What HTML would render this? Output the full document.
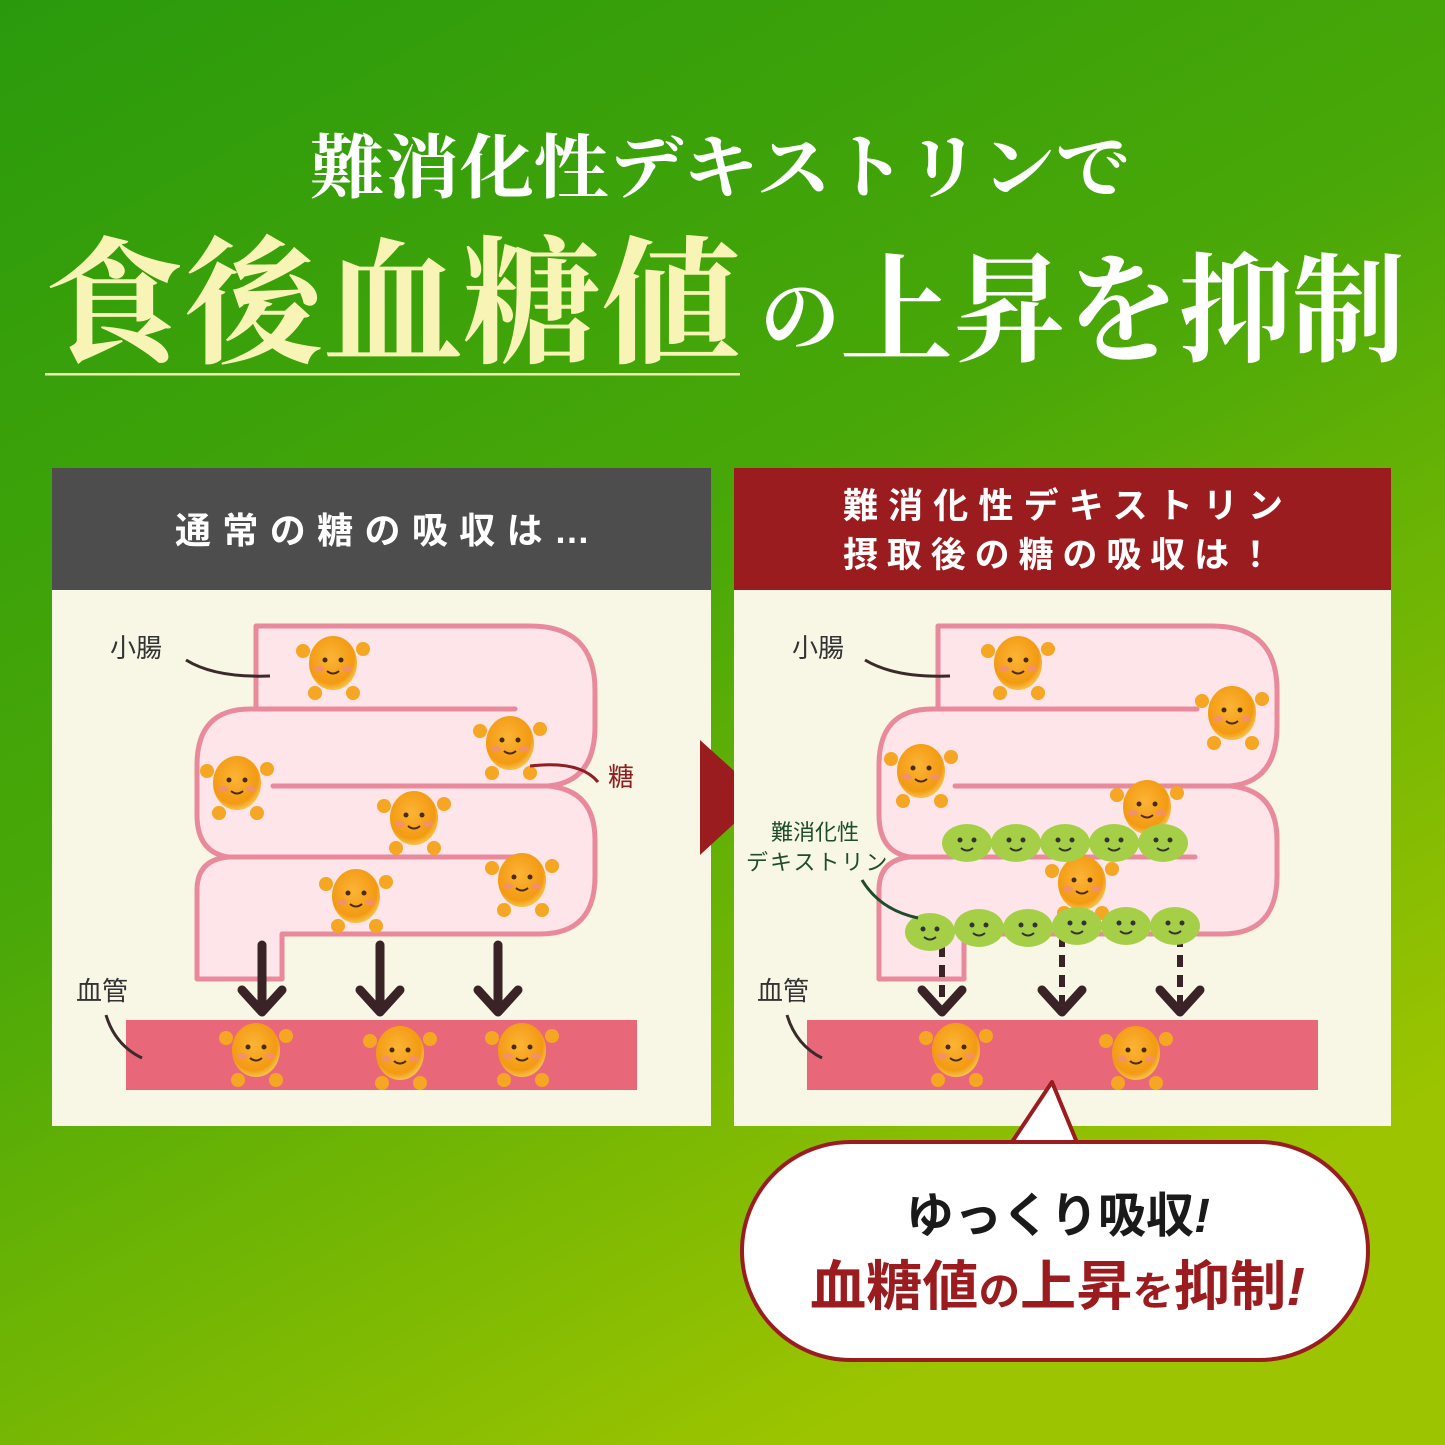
<!DOCTYPE html>
<html><head><meta charset="utf-8">
<style>
html,body{margin:0;padding:0;width:1445px;height:1445px;overflow:hidden}
svg{display:block}
.serif{font-family:"Liberation Serif","Noto Serif CJK SC",serif}
.sans{font-family:"Liberation Sans","Noto Sans CJK JP",sans-serif}
</style></head><body>
<svg width="1445" height="1445" viewBox="0 0 1445 1445" xmlns="http://www.w3.org/2000/svg">
<defs>
<linearGradient id="bg" x1="0" y1="0" x2="0.55" y2="1">
<stop offset="0" stop-color="#2a9a0c"/>
<stop offset="0.5" stop-color="#4aa808"/>
<stop offset="1" stop-color="#9cc400"/>
</linearGradient>
<radialGradient id="sug" cx="0.45" cy="0.4" r="0.6">
<stop offset="0" stop-color="#fbb436"/>
<stop offset="0.8" stop-color="#f39a12"/>
<stop offset="1" stop-color="#f6c24a"/>
</radialGradient>
<g id="s">
<circle cx="-30" cy="-12" r="7" fill="#f5a623"/><circle cx="30" cy="-14" r="7" fill="#f5a623"/>
<circle cx="-18" cy="30" r="7" fill="#f5a623"/><circle cx="20" cy="30" r="7" fill="#f5a623"/>
<ellipse cx="0" cy="0" rx="24" ry="27" fill="url(#sug)"/>
<circle cx="-8" cy="-3" r="2.5" fill="#4a2a10"/><circle cx="8" cy="-3" r="2.5" fill="#4a2a10"/>
<ellipse cx="-14" cy="6" rx="5" ry="3" fill="#f28a8a" opacity="0.7"/><ellipse cx="14" cy="6" rx="5" ry="3" fill="#f28a8a" opacity="0.7"/>
<path d="M-6 8 Q0 13 6 8" stroke="#4a2a10" stroke-width="2" fill="none"/>
</g>
<g id="g">
<ellipse cx="0" cy="0" rx="25" ry="19" fill="#a6cf48"/>
<circle cx="-7" cy="-3" r="2.5" fill="#333"/><circle cx="7" cy="-3" r="2.5" fill="#333"/>
<path d="M-6 5 Q0 10 6 5" stroke="#333" stroke-width="2" fill="none"/>
</g>
<g id="tube">
<path d="M256 626 H530 Q595 626 595 690 V726 Q595 782 548 786 Q595 790 595 840 V876 Q595 934 540 934 H282 V979 H197 V890 Q197 860 228 857 Q197 852 197 815 V765 Q197 709 250 709 H256 Z" fill="#fde5ea" stroke="#e98a9c" stroke-width="5" stroke-linejoin="round"/>
<path d="M256 709 H515 M273 786 H548 M228 857 H513" stroke="#e98a9c" stroke-width="5" fill="none" stroke-linecap="round"/>
</g>
</defs>
<rect width="1445" height="1445" fill="url(#bg)"/>

<text class="serif" x="310" y="192" font-size="70" font-weight="bold" fill="#fff" textLength="820" lengthAdjust="spacingAndGlyphs">難消化性デキストリンで</text>
<text class="serif" x="45" y="352" font-size="138" font-weight="bold" fill="#f8f4b6" textLength="695" lengthAdjust="spacingAndGlyphs">食後血糖値</text>
<text class="serif" x="760" y="345" font-size="80" font-weight="bold" fill="#fff">の</text>
<text class="serif" x="840" y="352" font-size="118" font-weight="bold" fill="#fff" textLength="565" lengthAdjust="spacingAndGlyphs">上昇を抑制</text>
<rect x="45" y="373" width="695" height="2.5" fill="#f3efb0"/>

<!-- left panel -->
<rect x="52" y="468" width="659" height="122" fill="#4d4d4d"/>
<text class="sans" x="175" y="543" font-size="36" font-weight="bold" fill="#fff" textLength="415" lengthAdjust="spacing">通常の糖の吸収は…</text>
<rect x="52" y="590" width="659" height="536" fill="#f8f6e5"/>
<use href="#tube"/>
<rect x="126" y="1020" width="511" height="70" fill="#e8687a"/>
<g stroke="#3a2326" stroke-width="9" fill="none" stroke-linecap="round" stroke-linejoin="round">
<path d="M262 945 V1012 M242 990 L262 1012 L282 990"/>
<path d="M380 945 V1012 M360 990 L380 1012 L400 990"/>
<path d="M498 945 V1012 M478 990 L498 1012 L518 990"/>
</g>
<use href="#s" x="333" y="663"/><use href="#s" x="510" y="743"/><use href="#s" x="237" y="783"/>
<use href="#s" x="414" y="818"/><use href="#s" x="522" y="880"/><use href="#s" x="356" y="896"/>
<use href="#s" x="256" y="1050"/><use href="#s" x="400" y="1053"/><use href="#s" x="522" y="1050"/>
<text class="sans" x="110" y="657" font-size="26" fill="#333">小腸</text>
<path d="M186 660 Q215 678 270 676" stroke="#3a2a2a" stroke-width="3" fill="none"/>
<text class="sans" x="608" y="786" font-size="26" fill="#8e1e22">糖</text>
<path d="M530 766 Q580 760 598 782" stroke="#8e1e22" stroke-width="3" fill="none"/>
<text class="sans" x="76" y="1000" font-size="26" fill="#333">血管</text>
<path d="M106 1015 Q115 1045 142 1058" stroke="#3a2a2a" stroke-width="3" fill="none"/>

<!-- middle arrow -->
<path d="M700 740 L763 797 L700 855 Z" fill="#9b1c1f"/>

<!-- right panel -->
<rect x="734" y="468" width="657" height="122" fill="#9b1c1f"/>
<text class="sans" x="843" y="518" font-size="35" font-weight="bold" fill="#fff" textLength="440" lengthAdjust="spacing">難消化性デキストリン</text>
<text class="sans" x="843" y="567" font-size="35" font-weight="bold" fill="#fff" textLength="430" lengthAdjust="spacing">摂取後の糖の吸収は！</text>
<rect x="734" y="590" width="657" height="536" fill="#f8f6e5"/>
<use href="#tube" x="682"/>
<rect x="807" y="1020" width="511" height="70" fill="#e8687a"/>
<g stroke="#3a2326" stroke-width="6" fill="none" stroke-dasharray="12 8">
<path d="M942 945 V1005"/><path d="M1062 935 V1005"/><path d="M1180 935 V1005"/>
</g>
<g stroke="#3a2326" stroke-width="9" fill="none" stroke-linecap="round" stroke-linejoin="round">
<path d="M922 990 L942 1012 L962 990"/><path d="M1042 990 L1062 1012 L1082 990"/><path d="M1160 990 L1180 1012 L1200 990"/>
</g>
<use href="#s" x="1018" y="663"/><use href="#s" x="1232" y="713"/><use href="#s" x="921" y="771"/>
<use href="#s" x="1147" y="807"/><use href="#s" x="1082" y="883"/>
<use href="#g" x="967" y="843"/><use href="#g" x="1016" y="843"/><use href="#g" x="1065" y="843"/><use href="#g" x="1114" y="843"/><use href="#g" x="1163" y="843"/>
<use href="#g" x="930" y="932"/><use href="#g" x="979" y="928"/><use href="#g" x="1028" y="928"/><use href="#g" x="1077" y="926"/><use href="#g" x="1126" y="926"/><use href="#g" x="1175" y="926"/>
<use href="#s" x="956" y="1050"/><use href="#s" x="1136" y="1053"/>
<text class="sans" x="792" y="657" font-size="26" fill="#333">小腸</text>
<path d="M865 660 Q895 678 950 676" stroke="#3a2a2a" stroke-width="3" fill="none"/>
<text class="sans" x="771" y="840" font-size="22" fill="#1f4d2a">難消化性</text>
<text class="sans" x="746" y="870" font-size="22" fill="#1f4d2a" letter-spacing="2">デキストリン</text>
<path d="M862 880 Q880 910 918 918" stroke="#1f4d2a" stroke-width="3" fill="none"/>
<text class="sans" x="757" y="1000" font-size="26" fill="#333">血管</text>
<path d="M787 1015 Q796 1045 822 1058" stroke="#3a2a2a" stroke-width="3" fill="none"/>

<!-- bubble -->
<path d="M1010 1145 L1052 1082 L1078 1145 Z" fill="#fff" stroke="#9b1c1f" stroke-width="4" stroke-linejoin="round"/>
<rect x="742" y="1142" width="626" height="218" rx="109" fill="#fff" stroke="#9b1c1f" stroke-width="4"/>
<path d="M1014 1147 L1074 1147" stroke="#fff" stroke-width="6"/>
<text class="sans" x="1058" y="1232" font-size="48" font-weight="bold" fill="#1a1a1a" text-anchor="middle">ゆっくり吸収<tspan font-style="italic">!</tspan></text>
<text class="sans" x="810" y="1305" font-size="54" font-weight="bold" fill="#9b1c1f" textLength="495" lengthAdjust="spacingAndGlyphs">血糖値<tspan font-size="40">の</tspan>上昇<tspan font-size="40">を</tspan>抑制<tspan font-style="italic">!</tspan></text>
</svg>
</body></html>
